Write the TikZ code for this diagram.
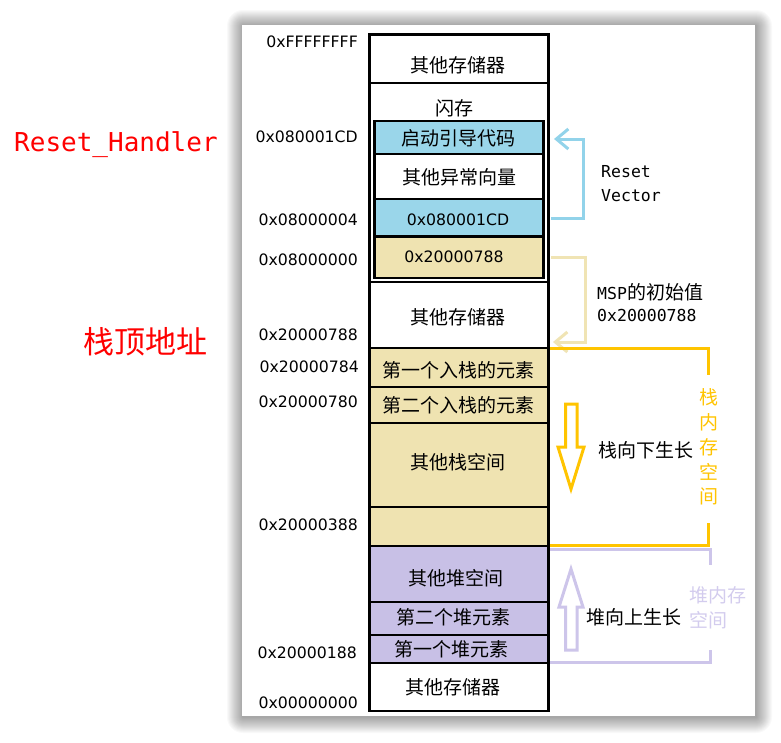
\documentclass[tikz,border=0pt]{standalone}
\usepackage{fontspec}
\setmainfont{Noto Sans CJK SC}
\newfontfamily\cjkf{Noto Sans CJK SC}
\newfontfamily\addrf{DejaVu Sans}
\newfontfamily\monof{DejaVu Sans Mono}
\usetikzlibrary{arrows.meta}
\definecolor{cyanfill}{HTML}{9AD6EA}
\definecolor{tanfill}{HTML}{EFE3B1}
\definecolor{purfill}{HTML}{C8C0E6}
\definecolor{cyanline}{HTML}{92D3EA}
\definecolor{tanline}{HTML}{F0E4B4}
\definecolor{goldline}{HTML}{FFC400}
\definecolor{purline}{HTML}{CDC5EA}
\definecolor{purtext}{HTML}{D3CCEE}
\definecolor{redtext}{HTML}{FF0000}
\tikzset{
  cell/.style={draw=black, line width=2.8},
  lbl/.style={font=\cjkf\fontsize{19}{22}\selectfont, inner sep=0},
  hexin/.style={font=\addrf\fontsize{15.7}{18}\selectfont, inner sep=0},
  addr/.style={font=\addrf\fontsize{15.7}{18}\selectfont, anchor=east, inner sep=0},
  bracket/.style={line width=3, line join=miter},
  barb/.style={-{Straight Barb[length=12pt,width=20pt]}},
  blockarrow/.style={line width=3, line join=miter},
}
\begin{document}
\begin{tikzpicture}[x=1pt,y=-1pt]
\useasboundingbox (0,0) rectangle (781,742);
\fill[white] (0,0) rectangle (781,742);
% panel shadow
\foreach \i in {1,...,16}{
  \fill[black, opacity=0.022, rounded corners=\i] ({243-\i},{26-\i}) rectangle ({756+\i},{717+\i});
}
\fill[white] (242,25) rectangle (755,716);

% memory column
\draw[cell, fill=white] (369.5,34.5) rectangle (548.5,83);
\draw[cell, fill=white] (369.5,83) rectangle (548.5,282);
\draw[cell, fill=cyanfill] (374.5,121) rectangle (543.5,154);
\draw[cell, fill=white] (374.5,154) rectangle (543.5,199);
\draw[cell, fill=cyanfill] (374.5,199) rectangle (543.5,236.5);
\draw[cell, fill=tanfill] (374.5,236.5) rectangle (543.5,278);
\draw[cell, fill=white] (369.5,282) rectangle (548.5,348);
\draw[cell, fill=tanfill] (369.5,348) rectangle (548.5,387);
\draw[cell, fill=tanfill] (369.5,387) rectangle (548.5,423);
\draw[cell, fill=tanfill] (369.5,423) rectangle (548.5,507);
\draw[cell, fill=tanfill] (369.5,507) rectangle (548.5,546);
\draw[cell, fill=purfill] (369.5,546) rectangle (548.5,602);
\draw[cell, fill=purfill] (369.5,602) rectangle (548.5,635);
\draw[cell, fill=purfill] (369.5,635) rectangle (548.5,663);
\draw[cell, fill=white] (369.5,663) rectangle (548.5,711);

% cell texts
\node[lbl] (t1) at (458,65) {其他存储器};
\node[lbl] (t2) at (454,108) {闪存};
\node[lbl] (t3) at (458,138) {启动引导代码};
\node[lbl] (t4) at (459,177) {其他异常向量};
\node[hexin] (t5) at (458,220) {0x080001CD};
\node[hexin] (t6) at (454,257) {0x20000788};
\node[lbl] (t7) at (458,317) {其他存储器};
\node[lbl] (t8) at (458,370) {第一个入栈的元素};
\node[lbl] (t9) at (458,405) {第二个入栈的元素};
\node[lbl] (t10) at (458,462) {其他栈空间};
\node[lbl] (t11) at (456,578) {其他堆空间};
\node[lbl] (t12) at (453,617) {第二个堆元素};
\node[lbl] (t13) at (451,649) {第一个堆元素};
\node[lbl] (t14) at (453,687) {其他存储器};

% addresses
\node[addr] (a1) at (358,42) {0xFFFFFFFF};
\node[addr] (a2) at (358,137) {0x080001CD};
\node[addr] (a3) at (358,220) {0x08000004};
\node[addr] (a4) at (358,260) {0x08000000};
\node[addr] (a5) at (358,335) {0x20000788};
\node[addr] (a6) at (359,367) {0x20000784};
\node[addr] (a7) at (358,402) {0x20000780};
\node[addr] (a8) at (358,525) {0x20000388};
\node[addr] (a9) at (357,653) {0x20000188};
\node[addr] (a10) at (358,703) {0x00000000};

% red labels
\node[font=\monof\fontsize{26}{30}\selectfont, text=redtext, anchor=west, inner sep=0] (rh) at (14,145) {Reset\_Handler};
\node[font=\cjkf\fontsize{31}{36}\selectfont, text=redtext, anchor=west, inner sep=0] (st) at (83,342) {栈顶地址};

% Reset vector bracket
\coordinate (cv1) at (551,218);
\coordinate (cv2) at (583,218);
\coordinate (cv3) at (583,139);
\coordinate (cv4) at (554,139);
\draw[bracket, cyanline, barb] (cv1) -- (cv2) -- (cv3) -- (cv4);
\node[font=\monof\fontsize{16.5}{24}\selectfont, align=left, anchor=west, inner sep=0] (rv) at (601,184) {Reset\\Vector};

% MSP bracket
\coordinate (mv1) at (551,257);
\coordinate (mv2) at (585,257);
\coordinate (mv3) at (585,342);
\coordinate (mv4) at (553,342);
\draw[bracket, tanline, barb] (mv1) -- (mv2) -- (mv3) -- (mv4);
\node[anchor=west, inner sep=0, font=\fontsize{19}{22}\selectfont] (msp) at (597,292) {{\monof\fontsize{16.5}{22}\selectfont MSP}的初始值};
\node[anchor=west, inner sep=0, font=\monof\fontsize{16.5}{22}\selectfont] (mspv) at (597,315) {0x20000788};

% stack bracket
\coordinate (sb1) at (550,348);
\coordinate (sb2) at (708,348);
\coordinate (sb3) at (708,375);
\coordinate (sb4) at (708,523);
\coordinate (sb5) at (708,545);
\coordinate (sb6) at (550,545);
\draw[bracket, goldline] (sb1) -- (sb2) -- (sb3);
\draw[bracket, goldline] (sb4) -- (sb5) -- (sb6);
\node[font=\cjkf\fontsize{19}{24.8}\selectfont, text=goldline, align=center, inner sep=0] (svt) at (709,447) {栈\\内\\存\\空\\间};

% stack down arrow
\draw[blockarrow, draw=goldline, fill=white] (565.5,404) -- (577,404) -- (577,447) -- (584,447) -- (571,489) -- (558,447) -- (565.5,447) -- cycle;
\node[lbl, anchor=west] (sg) at (598,450) {栈向下生长};

% heap bracket
\coordinate (hb1) at (550,549.5);
\coordinate (hb2) at (710,549.5);
\coordinate (hb3) at (710,565);
\coordinate (hb4) at (710,650);
\coordinate (hb5) at (710,662.5);
\coordinate (hb6) at (550,662.5);
\draw[bracket, purline] (hb1) -- (hb2) -- (hb3);
\draw[bracket, purline] (hb4) -- (hb5) -- (hb6);
\node[font=\cjkf\fontsize{19}{25}\selectfont, text=purtext, align=left, anchor=west, inner sep=0] (hvt) at (689,607.5) {堆内存\\空间};

% heap up arrow
\draw[blockarrow, draw=purline, fill=white] (565.5,650) -- (577,650) -- (577,607) -- (583,607) -- (571,569) -- (559,607) -- (565.5,607) -- cycle;
\node[lbl, anchor=west] (hg) at (586,617) {堆向上生长};
\end{tikzpicture}
\end{document}
